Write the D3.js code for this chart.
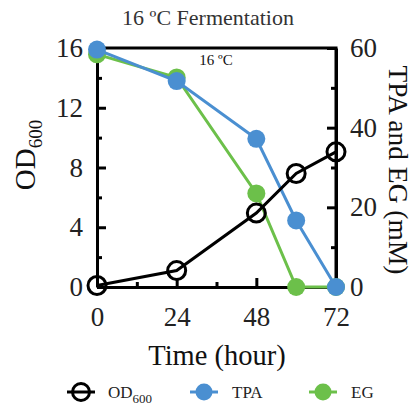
<!DOCTYPE html>
<html>
<head>
<meta charset="utf-8">
<script src="https://cdn.jsdelivr.net/npm/d3@7"></script>
<style>
  body { margin: 0; background: #fff; }
  text { font-family: "Liberation Serif", "Times New Roman", serif; }
</style>
</head>
<body>
<script>
w = 415;
h = 407;

hours = [0, 24, 48, 60, 72];
od600 = [0.1, 1.1, 4.95, 7.6, 9.05];
tpa = [59.6, 51.7, 37.2, 16.7, 0];
eg = [58.4, 52.6, 23.5, 0, 0];

leftTicks = [0, 4, 8, 12, 16];
rightTicks = [0, 20, 40, 60];
bottomTicks = [0, 24, 48, 72];

blue = '#4a8fd1';
green = '#6cc04a';

let xScale = d3.scaleLinear().domain([0, 72]).range([97, 336]);
let yLeft = d3.scaleLinear().domain([0, 16]).range([287, 48]);
let yRight = d3.scaleLinear().domain([0, 60]).range([287, 48]);

svg = d3.select('body')
  .append('svg')
  .attr('width', w)
  .attr('height', h);

// frame: only top and right, bottom and left come from the axes
svg.append('path')
  .attr('d', `M${xScale(0)},${yLeft(16)}H${xScale(72)}V${yLeft(0)}`)
  .attr('fill', 'none')
  .attr('stroke', '#000')
  .attr('stroke-width', 3);

function styleAxis(g) {
  g.attr('font-family', null);
  g.select('.domain').attr('stroke-width', 3);
  g.selectAll('.tick line').attr('stroke-width', 3);
  g.selectAll('.tick text')
    .style('font-family', '"Liberation Serif", serif')
    .style('font-size', '27px')
    .attr('fill', '#222');
}

// minor ticks
svg.append('g')
  .attr('transform', `translate(${xScale(0)},0)`)
  .call(d3.axisRight(yLeft).tickValues([2, 6, 10, 14]).tickSize(5).tickFormat(''))
  .call(g => g.select('.domain').remove())
  .call(g => g.selectAll('line').attr('stroke-width', 3));
svg.append('g')
  .attr('transform', `translate(${xScale(72)},0)`)
  .call(d3.axisLeft(yRight).tickValues([10, 30, 50]).tickSize(5).tickFormat(''))
  .call(g => g.select('.domain').remove())
  .call(g => g.selectAll('line').attr('stroke-width', 3));
svg.append('g')
  .attr('transform', `translate(0,${yLeft(0)})`)
  .call(d3.axisTop(xScale).tickValues([12, 36, 60]).tickSize(5).tickFormat(''))
  .call(g => g.select('.domain').remove())
  .call(g => g.selectAll('line').attr('stroke-width', 3));

// major ticks point inward, labels outside
svg.append('g')
  .attr('transform', `translate(${xScale(0)},0)`)
  .call(d3.axisLeft(yLeft).tickValues(leftTicks).tickSizeInner(-9).tickSizeOuter(0).tickPadding(14))
  .call(styleAxis);
svg.append('g')
  .attr('transform', `translate(${xScale(72)},0)`)
  .call(d3.axisRight(yRight).tickValues(rightTicks).tickSizeInner(-9).tickSizeOuter(0).tickPadding(14))
  .call(styleAxis);
svg.append('g')
  .attr('transform', `translate(0,${yLeft(0)})`)
  .call(d3.axisBottom(xScale).tickValues(bottomTicks).tickSizeInner(-9).tickSizeOuter(0).tickPadding(20))
  .call(styleAxis);

// series
let lineRight = d3.line().x((d, i) => xScale(hours[i])).y(d => yRight(d));
let lineLeft = d3.line().x((d, i) => xScale(hours[i])).y(d => yLeft(d));

svg.append('path').datum(eg)
  .attr('d', lineRight).attr('fill', 'none').attr('stroke', green).attr('stroke-width', 3);
svg.selectAll('.eg').data(eg).enter().append('circle')
  .attr('cx', (d, i) => xScale(hours[i])).attr('cy', d => yRight(d))
  .attr('r', 9).attr('fill', green);

svg.append('path').datum(tpa)
  .attr('d', lineRight).attr('fill', 'none').attr('stroke', blue).attr('stroke-width', 3);
svg.selectAll('.tpa').data(tpa).enter().append('circle')
  .attr('cx', (d, i) => xScale(hours[i])).attr('cy', d => yRight(d))
  .attr('r', 9).attr('fill', blue);

svg.append('path').datum(od600)
  .attr('d', lineLeft).attr('fill', 'none').attr('stroke', '#000').attr('stroke-width', 3);
svg.selectAll('.od').data(od600).enter().append('circle')
  .attr('cx', (d, i) => xScale(hours[i])).attr('cy', d => yLeft(d))
  .attr('r', 9).attr('fill', 'none').attr('stroke', '#000').attr('stroke-width', 3);

// titles
svg.append('text')
  .attr('x', 208).attr('y', 25)
  .attr('text-anchor', 'middle')
  .style('font-size', '22px').attr('fill', '#333')
  .text('16 ºC Fermentation');

svg.append('text')
  .attr('x', 216).attr('y', 65)
  .attr('text-anchor', 'middle')
  .style('font-size', '15px').attr('fill', '#111')
  .text('16 ºC');

let odLabel = svg.append('text')
  .attr('transform', 'translate(35,155) rotate(-90)')
  .attr('text-anchor', 'middle')
  .style('font-size', '29px').attr('fill', '#111');
odLabel.append('tspan').text('OD');
odLabel.append('tspan').style('font-size', '19px').attr('dy', 7).text('600');

svg.append('text')
  .attr('transform', 'translate(389,170) rotate(90)')
  .attr('text-anchor', 'middle')
  .style('font-size', '27.5px').attr('fill', '#111')
  .text('TPA and EG (mM)');

svg.append('text')
  .attr('x', 217).attr('y', 365)
  .attr('text-anchor', 'middle')
  .style('font-size', '28.5px').attr('fill', '#111')
  .text('Time (hour)');

// legend
let legend = [
  { name: 'OD', sub: '600', color: '#000', open: true, x: 67 },
  { name: 'TPA', sub: '', color: blue, open: false, x: 190 },
  { name: 'EG', sub: '', color: green, open: false, x: 309 }
];
let lg = svg.selectAll('.lg').data(legend).enter().append('g')
  .attr('transform', d => `translate(${d.x},392)`);
lg.append('line').attr('x1', 0).attr('x2', 28)
  .attr('stroke', d => d.color).attr('stroke-width', 3);
lg.append('circle').attr('cx', 14).attr('r', 8.5)
  .attr('fill', d => d.open ? 'none' : d.color)
  .attr('stroke', d => d.open ? '#000' : 'none').attr('stroke-width', 3);
let lt = lg.append('text').attr('x', d => d.open ? 41 : 42).attr('y', 6)
  .style('font-size', '17px').attr('fill', '#222');
lt.append('tspan').text(d => d.name);
lt.append('tspan').style('font-size', '13px').attr('dy', 5).text(d => d.sub);
</script>
</body>
</html>
